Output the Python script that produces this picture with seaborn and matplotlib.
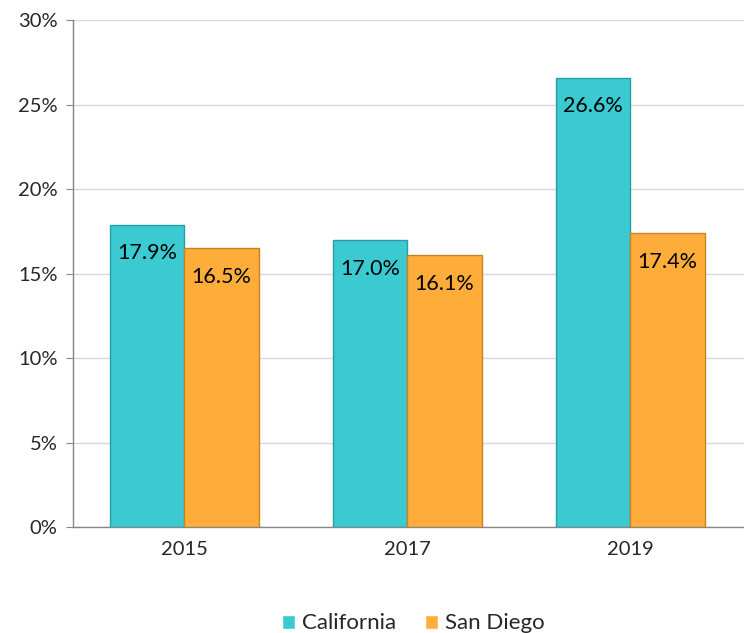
import pandas as pd
import seaborn as sns
import matplotlib.pyplot as plt

years = ["2015", "2017", "2019"]
california = [17.9, 17.0, 26.6]
san_diego = [16.5, 16.1, 17.4]

df = pd.DataFrame({
    "year": years * 2,
    "region": ["California"] * 3 + ["San Diego"] * 3,
    "value": california + san_diego,
})

sns.set_style("white")
plt.rcParams['font.family'] = ['Lato', 'DejaVu Sans']

fig = plt.figure(figsize=(7.44, 6.33), dpi=100)
ax = fig.add_axes([0.098, 0.1675, 0.905, 0.8005])

palette = {"California": "#3CCAD2", "San Diego": "#FFAD3A"}
sns.barplot(ax=ax, data=df, x="year", y="value", hue="region", palette=palette,
            width=0.667, saturation=1, linewidth=1, zorder=3)

# darker edges per series, labels inside the bar tops
for bar_container, edge in zip(ax.containers, ["#2A9CA3", "#C98422"]):
    for bar in bar_container:
        bar.set_edgecolor(edge)
    labels = ["%.1f%%" % v for v in bar_container.datavalues]
    for bar, lab in zip(bar_container, labels):
        ax.text(bar.get_x() + bar.get_width() / 2, bar.get_height() - 1.7, lab,
                ha="center", va="center", fontsize=15.5, color="black", zorder=4)

ax.set_ylim(0, 30)
ax.set_xlim(-0.5, 2.52)
ax.set_yticks([0, 5, 10, 15, 20, 25, 30])
ax.set_yticklabels(["%d%%" % t for t in [0, 5, 10, 15, 20, 25, 30]], fontsize=14.5)
ax.tick_params(axis="x", labelsize=14.5, length=0, pad=10)
ax.tick_params(axis="y", left=True, length=5, color="#868686", pad=6)
ax.yaxis.grid(True, color="#D9D9D9", linewidth=1, zorder=0)
ax.set_axisbelow(True)
ax.set_xlabel("")
ax.set_ylabel("")
for side in ["top", "right"]:
    ax.spines[side].set_visible(False)
for side in ["left", "bottom"]:
    ax.spines[side].set_color("#868686")
    ax.spines[side].set_linewidth(1)

handles, lbls = ax.get_legend_handles_labels()
ax.legend(handles, lbls, loc="lower center", bbox_to_anchor=(0.505, -0.232), ncol=2,
          frameon=False, fontsize=16, handlelength=0.6, handleheight=0.6,
          handletextpad=0.3, columnspacing=1.3, borderpad=0)

fig.savefig("out.png", dpi=100)
